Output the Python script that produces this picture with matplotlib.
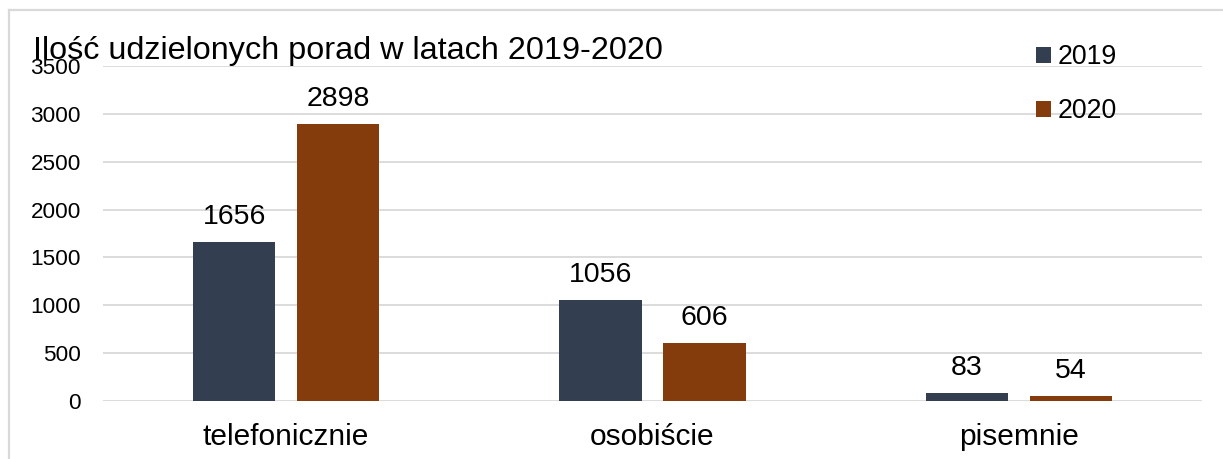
import matplotlib

matplotlib.use("Agg")
import matplotlib.pyplot as plt
import numpy as np
from matplotlib.lines import Line2D

plt.rcParams["font.family"] = ["Liberation Sans", "DejaVu Sans"]

categories = ["telefonicznie", "osobiście", "pisemnie"]
years = ["2019", "2020"]
values_2019 = [1656, 1056, 83]
values_2020 = [2898, 606, 54]
y_ticks = [0, 500, 1000, 1500, 2000, 2500, 3000, 3500]

colors = {"2019": "#333f50", "2020": "#843c0c"}
grid_color = "#d9d9d9"

W, H = 1223, 459
fig = plt.figure(figsize=(W / 100, H / 100), dpi=100)
ax = fig.add_axes([103 / W, 1 - 401 / H, (1202 - 103) / W, (401 - 66) / H])

x = np.arange(len(categories))
bar_w = 0.224
offset = 0.142
bars_a = ax.bar(x - offset, values_2019, bar_w, color=colors["2019"], label=years[0], zorder=3)
bars_b = ax.bar(x + offset, values_2020, bar_w, color=colors["2020"], label=years[1], zorder=3)

for bars, vals in ((bars_a, values_2019), (bars_b, values_2020)):
    for rect, v in zip(bars, vals):
        ax.annotate(str(v), (rect.get_x() + rect.get_width() / 2, v),
                    xytext=(0, 13), textcoords="offset points",
                    ha="center", va="baseline", fontsize=20.5)

ax.set_xlim(-0.5, len(categories) - 0.5)
ax.set_ylim(0, 3500)
ax.set_yticks(y_ticks)
ax.set_xticks(x)
ax.set_xticklabels(categories, fontsize=21.5)
ax.tick_params(axis="x", length=0, pad=16)
ax.tick_params(axis="y", length=0, pad=16, labelsize=16.2)
ax.grid(axis="y", color=grid_color, linewidth=1.3, zorder=0)
ax.set_axisbelow(True)
for spine in ax.spines.values():
    spine.set_visible(False)

ax.legend(frameon=False, loc="upper left", bbox_to_anchor=(1036 / W, 1 - 44 / H),
          bbox_transform=fig.transFigure, fontsize=19.2, handlelength=0.55,
          handleheight=0.55, handletextpad=0.25, labelspacing=1.05,
          borderpad=0, borderaxespad=0)

fig.text(33 / W, 1 - 59 / H, "Ilość udzielonych porad w latach 2019-2020",
         fontsize=23.3, va="baseline", ha="left")

# light frame around the chart area
fig.add_artist(Line2D([9 / W, 9 / W], [0, 1 - 10 / H], transform=fig.transFigure,
                      color=grid_color, linewidth=1.6))
fig.add_artist(Line2D([9 / W, 1], [1 - 10 / H, 1 - 10 / H], transform=fig.transFigure,
                      color=grid_color, linewidth=1.6))

fig.savefig("out.png", dpi=100)
